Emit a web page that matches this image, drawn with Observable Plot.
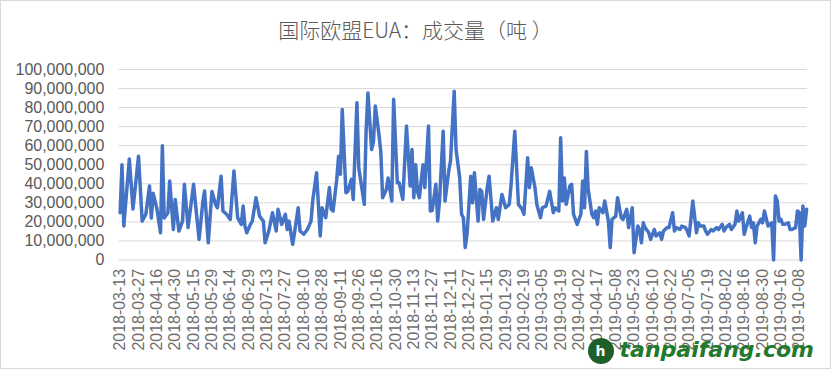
<!DOCTYPE html>
<html>
<head>
<meta charset="utf-8">
<script src="https://cdn.jsdelivr.net/npm/d3@7"></script>
<script src="https://cdn.jsdelivr.net/npm/@observablehq/plot@0.6"></script>
<style>
  html, body { margin: 0; padding: 0; background: #fff; }
  #wrap { position: relative; width: 831px; height: 369px; box-sizing: border-box; border: 1px solid #d9d9d9; overflow: hidden; }
  #title { height: 50px; line-height: 56px; text-align: center; font-family: "Noto Sans CJK SC", sans-serif; font-weight: 300; font-size: 21px; color: #595959; }
  #chart svg { display: block; }
  #wm { position: absolute; right: 16px; bottom: 4px; font-family: "DejaVu Sans", sans-serif; font-weight: bold; font-style: italic; font-size: 22px; color: #1f7a2e; }
  #wm .dot { display: inline-block; width: 26px; height: 26px; border-radius: 50%; background: #1f5f2a; color: #fff; font-size: 14px; line-height: 26px; text-align: center; vertical-align: middle; margin-right: 6px; font-style: normal; }
</style>
</head>
<body>
<div id="wrap">
  <div id="title">国际欧盟EUA：成交量（吨 ）</div>
  <div id="chart"></div>
  <div id="wm"><span class="dot">h</span>tanpaifang.com</div>
</div>
<script>
const dateLabels = ["2018-03-13","2018-03-27","2018-04-16","2018-04-30","2018-05-15","2018-05-29","2018-06-14","2018-06-29","2018-07-13","2018-07-27","2018-08-10","2018-08-28","2018-09-11","2018-09-26","2018-10-16","2018-10-30","2018-11-13","2018-11-27","2018-12-11","2018-12-27","2019-01-15","2019-01-29","2019-02-19","2019-03-05","2019-03-19","2019-04-02","2019-04-17","2019-05-08","2019-05-23","2019-06-10","2019-06-22","2019-07-05","2019-07-19","2019-08-02","2019-08-16","2019-08-30","2019-09-16","2019-10-08"];
const labelStep = 10; // one date label every 10 trading days
const dayCount = 375;

// trading-day index (0 = 2018-03-13) and volume in millions of tonnes
const dayIndex = [0,1,2,5,7,10,12,14,16,17,18,20,22,23,24,26,27,29,30,32,34,35,37,40,43,45,46,48,50,52,53,55,56,58,60,62,64,66,67,68,69,71,72,74,76,78,79,81,83,85,86,88,90,91,92,94,95,97,98,100,102,104,105,107,109,110,112,114,115,116,118,119,120,121,123,124,126,127,129,130,133,134,135,137,138,139,141,142,143,145,146,148,149,151,152,154,156,158,159,160,161,162,163,165,166,168,169,170,172,173,174,176,177,179,180,182,183,185,186,187,188,189,191,192,193,195,196,197,198,200,201,203,205,206,208,210,212,213,215,217,219,220,222,223,224,226,227,229,230,232,234,236,237,239,240,241,242,243,245,246,247,249,251,252,253,254,255,257,258,259,260,261,263,264,266,267,268,270,271,273,274,276,277,279,280,282,283,284,285,286,288,289,291,292,294,295,296,298,299,301,302,303,305,306,308,309,310,312,314,315,316,318,319,320,322,323,325,326,328,329,330,332,333,335,336,337,339,340,341,343,344,345,346,347,349,350,351,353,354,355,356,357,358,359,360,361,362,364,365,366,368,369,370,371,372,373,374];
const volumeMillions = [24.8,50,17.8,53,26.7,54.5,20.4,24,38.8,22,35,27,14.3,60,22,24.8,41.4,16,31.8,15.2,20.4,39.7,17,39.7,10.8,30,36.2,9,36,29,27.4,44,25.7,24,21.3,46.7,22.2,18.7,28.3,17.8,14.3,18.7,20.4,32.7,23,20.4,9,15.2,24.8,15.2,26.6,18.7,24,16,20.4,8.2,14.3,27.4,15.2,13.5,16,20.4,31.8,45.8,12.6,27.4,22.2,38,26.6,25.7,42.3,54.5,45,79,35.3,36,42.3,31.8,82.5,48.4,29.2,67.6,87.7,58,62,80.8,65.9,57,32.7,37,43,31,84.3,40.5,40.5,31.8,70.3,38.8,58,32.7,50,36,32.7,50,38,70.3,25.7,26,39.7,20.4,31,67.6,31,46.7,52,88.6,58,43,24,22.2,6.5,13.5,44,30,45.8,20.4,37,36,21.3,38,44,20.4,27.4,21.3,34.4,27.4,29.2,39.7,67.6,29.2,26.6,24,53.6,38,48.4,38,29.2,22.2,27.4,28.3,36,24.8,27.4,25.7,64.1,31,43,29.2,38.8,39.7,24,18.7,24,41.4,27.4,57,37,24,22.2,25.7,18.7,27.4,24.8,31,20.4,6.5,21.3,23,32.7,22.2,21.3,26.6,17,27.4,3.8,17.8,16,9,19.5,17,14.3,10.8,16,12.6,14.3,10.8,15.2,17,17,24.8,15.2,17,16,17.8,17,15.2,12.6,31,14.3,19.5,17.8,17.8,15.2,13.5,16,15.2,17,16,18.7,15.2,17,18.7,16,18.7,25.7,20.4,24.8,13.5,17,23,17,19.5,9,17.8,21.3,19.5,25.7,17.8,18.7,19.5,0,33.6,31,20.4,21.3,18.7,18.7,19.5,16,16,17,25.7,25,0,28.3,17.8,26.6];

const yTicks = d3.range(0, 101, 10); // millions
const xTicks = dateLabels.map((_, k) => k * labelStep);

const data = dayIndex.map((d, k) => ({day: d, vol: volumeMillions[k]}));

const chart = Plot.plot({
  width: 831,
  height: 319,
  marginTop: 18,
  marginBottom: 110,
  marginLeft: 118,
  marginRight: 23,
  style: {fontFamily: "Liberation Sans, Arial, sans-serif", fontSize: "16px", color: "#595959", background: "transparent", overflow: "visible"},
  x: {domain: [-0.5, dayCount - 0.5]},
  y: {domain: [0, 100]},
  marks: [
    Plot.gridY(yTicks, {stroke: "#d9d9d9", strokeOpacity: 1, strokeWidth: 1}),
    Plot.axisY(yTicks, {tickSize: 0, tickPadding: 15, tickFormat: d => d3.format(",")(d * 1e6), label: null, fontSize: 16}),
    Plot.axisX(xTicks, {tickSize: 0, tickPadding: 9, tickRotate: -90, tickFormat: d => dateLabels[d / labelStep], label: null, fontSize: 16, fill: "#6e6e6e"}),
    Plot.line(data, {x: "day", y: "vol", stroke: "#4472C4", strokeWidth: 3.5, strokeLinejoin: "round"})
  ]
});
document.getElementById("chart").appendChild(chart);
</script>
</body>
</html>
